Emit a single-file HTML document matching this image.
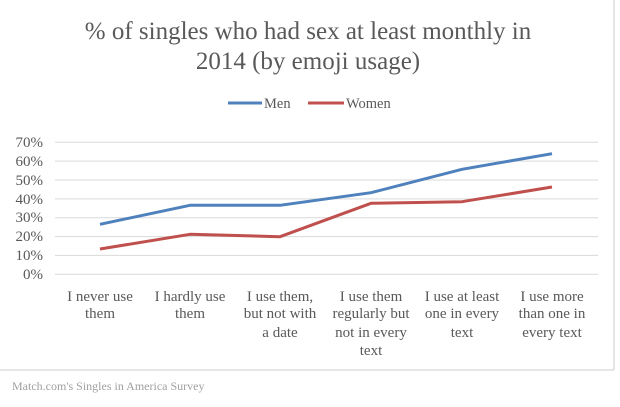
<!DOCTYPE html>
<html><head><meta charset="utf-8"><style>
body{margin:0;background:#fff;}
svg{display:block;font-family:"Liberation Serif",serif;}
</style></head><body>
<svg width="620" height="407" viewBox="0 0 620 407">
<line x1="614" y1="0" x2="614" y2="370" stroke="#ddd" stroke-width="1.5"/>
<line x1="0" y1="370" x2="614" y2="370" stroke="#ddd" stroke-width="1.5"/>
<text x="308" y="39" text-anchor="middle" font-size="25" fill="#595959">% of singles who had sex at least monthly in</text>
<text x="308" y="69" text-anchor="middle" font-size="25" fill="#595959">2014 (by emoji usage)</text>
<line x1="228" y1="103" x2="262" y2="103" stroke="#4f81bd" stroke-width="3"/>
<text x="264" y="108" font-size="14.5" fill="#595959">Men</text>
<line x1="308" y1="103" x2="344" y2="103" stroke="#c0504d" stroke-width="3"/>
<text x="346" y="108" font-size="14.5" fill="#595959">Women</text>
<g stroke="#d9d9d9" stroke-width="1">
<line x1="55" y1="142.3" x2="598" y2="142.3"/>
<line x1="55" y1="161.1" x2="598" y2="161.1"/>
<line x1="55" y1="180" x2="598" y2="180"/>
<line x1="55" y1="198.9" x2="598" y2="198.9"/>
<line x1="55" y1="217.7" x2="598" y2="217.7"/>
<line x1="55" y1="236.6" x2="598" y2="236.6"/>
<line x1="55" y1="255.4" x2="598" y2="255.4"/>
<line x1="55" y1="274.3" x2="598" y2="274.3"/>
</g>
<g font-size="15" fill="#595959" text-anchor="end">
<text x="43" y="147">70%</text><text x="43" y="166">60%</text><text x="43" y="185">50%</text><text x="43" y="204">40%</text><text x="43" y="222">30%</text><text x="43" y="241">20%</text><text x="43" y="260">10%</text><text x="43" y="279">0%</text>
</g>
<polyline fill="none" stroke="#4f81bd" stroke-width="3" stroke-linejoin="round" points="100,224.3 190,205.3 280,205.3 371,192.7 462,169.3 552,153.7"/>
<polyline fill="none" stroke="#c0504d" stroke-width="3" stroke-linejoin="round" points="100,249 190,234.3 280,236.7 371,203.3 462,201.7 552,187"/>
<g font-size="15" fill="#595959" text-anchor="middle">
<text x="100" y="301">I never use</text><text x="100" y="318">them</text>
<text x="190" y="301">I hardly use</text><text x="190" y="318">them</text>
<text x="280" y="301">I use them,</text><text x="280" y="318">but not with</text><text x="280" y="337">a date</text>
<text x="371" y="301">I use them</text><text x="371" y="318">regularly but</text><text x="371" y="337">not in every</text><text x="371" y="355">text</text>
<text x="462" y="301">I use at least</text><text x="462" y="318">one in every</text><text x="462" y="337">text</text>
<text x="552" y="301">I use more</text><text x="552" y="318">than one in</text><text x="552" y="337">every text</text>
</g>
<text x="12" y="390" font-size="12" fill="#a0a0a0">Match.com's Singles in America Survey</text>
</svg>
</body></html>
